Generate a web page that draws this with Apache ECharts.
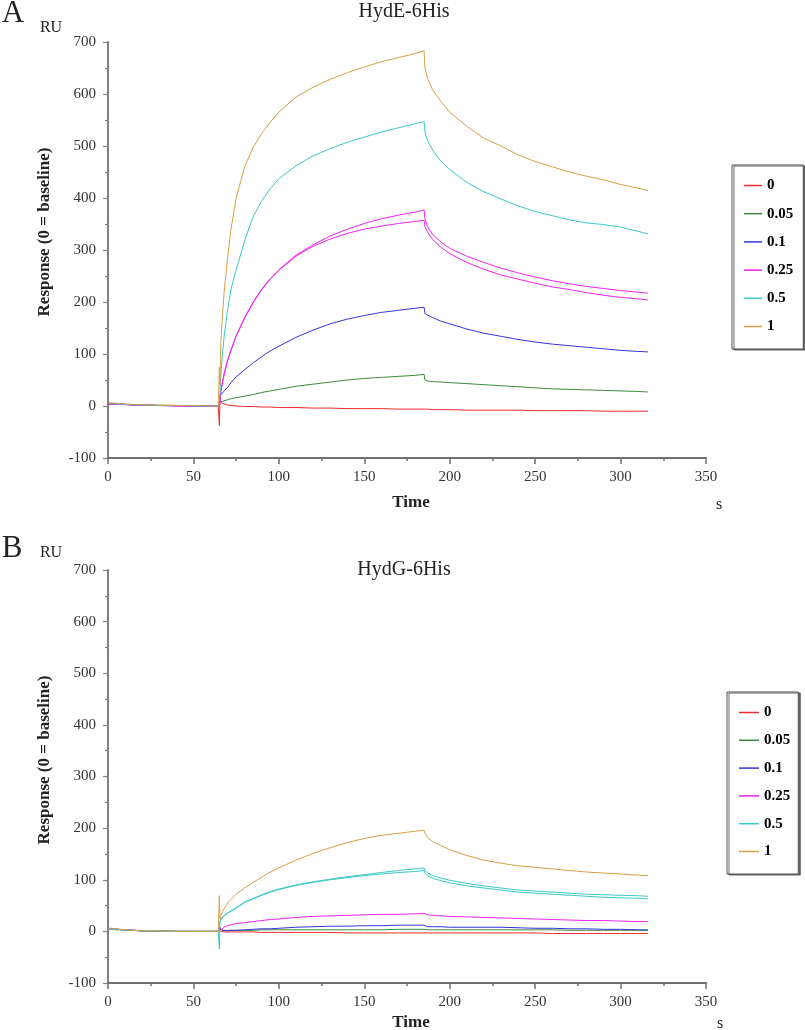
<!DOCTYPE html>
<html>
<head>
<meta charset="utf-8">
<script src="https://cdn.jsdelivr.net/npm/echarts@6/dist/echarts.min.js"></script>
<style>
html,body{margin:0;padding:0;background:#fff;}
#chart{width:805px;height:1030px;}
</style>
</head>
<body>
<div id="chart"></div>
<script>
// Time points (s), shared by all sensorgrams
const TIME = [0,2,5,10,15,20,30,40,50,60,64.5,65,
  65.2,65.5,
  66,67,68,70,72,75,80,85,90,95,100,
  110,120,130,140,150,160,170,180,
  185,
  185.5,187,190,195,200,
  210,220,230,240,250,260,270,280,290,300,310,
  316];

const NAMES = ['0','0.05','0.1','0.25','0.5','1'];
const X_TICKS = [0,50,100,150,200,250,300,350];
const Y_TICKS = [-100,0,100,200,300,400,500,600,700];

// Panel A: HydE-6His (RU)
const A_0 = [5,5,4,3,2,2,1,1,0,0,0,0, -38,10,
  8,5,3,2,1,0,-1,-1,-2,-2,-3, -3,-4,-4,-5,-5,-5,-6,-6, -6,
  -4,-6,-7,-7,-7, -8,-8,-8,-8,-9,-9,-9,-9,-10,-10,-10, -10];
const A_005 = [4,4,4,3,2,2,1,1,1,0,0,0, 2,8,
  8,9,10,12,14,16,19,22,26,29,32, 38,42,46,50,53,55,57,59, 61,
  50,48,47,46,45, 43,41,39,37,35,33,32,31,30,29,28, 27];
const A_01 = [3,4,4,3,2,2,1,1,0,0,0,0, 5,20,
  22,25,29,36,45,56,70,83,95,106,115, 132,146,158,167,174,180,184,188, 190,
  178,175,170,163,158, 148,140,134,128,123,119,116,113,110,107,105, 104];
const A_025a = [4,4,4,3,2,2,1,0,0,0,0,0, 0,5,
  28,46,62,88,108,135,170,200,225,245,262, 290,310,327,340,351,360,367,373, 377,
  360,345,330,315,303, 288,276,265,256,248,241,235,230,226,222,219, 217];
const A_025b = [4,4,3,3,2,1,1,0,0,0,0,0, 0,5,
  27,45,61,87,107,134,169,199,224,244,261, 288,307,321,332,340,346,351,355, 357,
  345,335,320,305,293, 276,263,252,244,236,229,224,218,213,209,206, 204];
const A_05 = [5,5,4,3,2,2,1,1,0,0,0,0, 10,20,
  60,100,135,185,225,262,318,365,395,418,437, 462,481,495,507,517,527,535,543, 547,
  527,510,492,470,455, 430,412,398,385,374,366,358,352,349,344,336, 331];
const A_1 = [6,6,5,4,3,2,2,1,1,0,0,0, 75,40,
  120,175,220,285,340,400,460,498,524,546,565, 594,613,628,641,652,662,670,678, 683,
  650,630,608,585,565, 538,515,500,483,470,460,450,442,435,426,419, 414];

// Panel B: HydG-6His (RU)
const B_0 = [5,5,4,3,2,1,1,0,0,0,0,0, 5,3,
  0,-1,-1,-1,-1,-1,-1,-1,-2,-2,-2, -2,-2,-2,-3,-3,-3,-3,-3, -3,
  -3,-3,-3,-3,-3, -3,-3,-3,-3,-3,-4,-4,-4,-4,-4,-4, -4];
const B_005 = [4,4,3,3,2,1,1,0,0,0,0,0, 3,5,
  2,2,2,2,2,2,2,2,3,3,3, 3,3,3,3,3,3,4,4, 4,
  3,3,3,3,3, 3,3,3,3,3,3,2,2,2,2,2, 2];
const B_01 = [5,4,4,3,2,1,1,0,0,0,0,0, 8,10,
  5,2,1,1,2,2,3,4,5,5,6, 8,9,10,10,11,11,12,12, 12,
  10,9,9,9,8, 8,8,8,7,6,6,5,5,4,4,3, 3];
const B_025 = [5,4,4,3,2,1,1,0,0,0,0,0, 10,8,
  3,5,8,11,13,15,17,19,21,23,24, 27,29,30,31,32,33,33,34, 35,
  33,32,31,30,29, 28,27,26,25,24,23,22,21,21,20,19, 19];
const B_05a = [5,5,4,3,2,1,1,0,0,0,0,0, -34,20,
  24,28,31,36,40,46,57,64,71,77,82, 90,96,101,106,110,114,118,121, 123,
  118,113,108,103,99, 93,88,84,80,78,76,74,72,71,70,69, 68];
const B_05b = [5,4,4,3,2,1,1,0,0,0,0,0, 0,18,
  22,26,30,35,39,45,56,63,70,76,81, 89,95,100,104,108,111,114,116, 118,
  113,108,103,98,94, 88,84,80,76,74,72,70,68,66,65,64, 63];
const B_1 = [6,6,5,3,2,1,1,0,0,0,0,0, 69,25,
  30,38,44,55,62,72,84,95,105,115,123, 138,151,162,172,180,186,190,194, 196,
  190,182,174,166,158, 147,138,132,127,124,121,118,115,113,111,109, 108];

const COLORS = {'0':'#ee2b2b','0.05':'#3a8a3a','0.1':'#3434dc','0.25':'#ee22ee','0.5':'#3cc8c8','1':'#d9a046'};

const PANEL_A = [['0',A_0],['0.05',A_005],['0.1',A_01],['0.25',A_025a],['0.25',A_025b],['0.5',A_05],['1',A_1]];
const PANEL_B = [['0',B_0],['0.05',B_005],['0.1',B_01],['0.25',B_025],['0.5',B_05a],['0.5',B_05b],['1',B_1]];

const SERIF = 'Liberation Serif';

function mkSeries(panel, idx){
  return panel.map(([name, vals]) => ({
    type:'line', name, xAxisIndex: idx, yAxisIndex: idx,
    data: TIME.map((t,i)=>[t, vals[i]]),
    showSymbol:false, symbol:'none', smooth:false,
    lineStyle:{width:1, color:COLORS[name]}, itemStyle:{color:COLORS[name]},
    animation:false, z: 3
  }));
}

function xAxis(gi){
  return {
    type:'value', gridIndex:gi, min:X_TICKS[0], max:X_TICKS[X_TICKS.length-1], interval:50,
    axisLine:{show:true, onZero:false, lineStyle:{color:'#707070', width:2}},
    axisTick:{show:true, length:6, lineStyle:{color:'#707070', width:1.5}},
    minorTick:{show:true, splitNumber:2, length:3, lineStyle:{color:'#707070', width:1.5}},
    splitLine:{show:false},
    axisLabel:{fontFamily:SERIF, fontSize:15, color:'#333', margin:12}
  };
}
function yAxis(gi){
  return {
    type:'value', gridIndex:gi, min:Y_TICKS[0], max:Y_TICKS[Y_TICKS.length-1], interval:100,
    axisLine:{show:true, onZero:false, lineStyle:{color:'#808080', width:2}},
    axisTick:{show:true, length:5, lineStyle:{color:'#808080', width:1.2}},
    minorTick:{show:true, splitNumber:2, length:3, lineStyle:{color:'#808080', width:1.2}},
    splitLine:{show:false},
    axisLabel:{fontFamily:SERIF, fontSize:15, color:'#333', margin:12}
  };
}
function legend(left, top, iw, gap, pad){
  return {
    orient:'vertical', left, top, data:NAMES, icon:'rect', itemWidth:iw, itemHeight:1.5,
    itemGap:gap, padding:pad, borderColor:'#555', borderWidth:1,
    backgroundColor:'#fff', shadowColor:'rgba(70,70,70,0.8)', shadowOffsetX:2, shadowOffsetY:1, shadowBlur:0,
    selectedMode:false,
    textStyle:{fontFamily:SERIF, fontWeight:'bold', fontSize:15, color:'#000'}
  };
}
function txt(x, y, text, font, rot){
  return {type:'text', x, y, rotation: rot||0, z:10,
    style:{text, font, fill:'#222', align:'center', verticalAlign:'middle'}};
}

const chart = echarts.init(document.getElementById('chart'), null, {renderer:'canvas'});
chart.setOption({
  backgroundColor:'#fff',
  animation:false,
  grid:[
    {left:108, right:99, top:42, height:416},
    {left:108, right:99, top:570, height:413}
  ],
  xAxis:[xAxis(0), xAxis(1)],
  yAxis:[yAxis(0), yAxis(1)],
  legend:[legend(732,165,18,13.2,[13,10,15,12]), legend(727,692,20,12.8,[13,8,15,12])],
  series:[...mkSeries(PANEL_A,0), ...mkSeries(PANEL_B,1)],
  graphic:[
    txt(13,14,'A','31px "Liberation Serif"'),
    txt(51,28,'RU','16px "Liberation Serif"'),
    txt(404,12,'HydE-6His','20px "Liberation Serif"'),
    txt(45,232,'Response (0 = baseline)','bold 17px "Liberation Serif"', Math.PI/2),
    txt(411,503,'Time','bold 17px "Liberation Serif"'),
    txt(719,505,'s','16px "Liberation Serif"'),
    txt(12,549,'B','31px "Liberation Serif"'),
    txt(51,553,'RU','16px "Liberation Serif"'),
    txt(404,570,'HydG-6His','20px "Liberation Serif"'),
    txt(45,760,'Response (0 = baseline)','bold 17px "Liberation Serif"', Math.PI/2),
    txt(411,1023,'Time','bold 17px "Liberation Serif"'),
    txt(720,1024,'s','16px "Liberation Serif"')
  ]
});
</script>
</body>
</html>
